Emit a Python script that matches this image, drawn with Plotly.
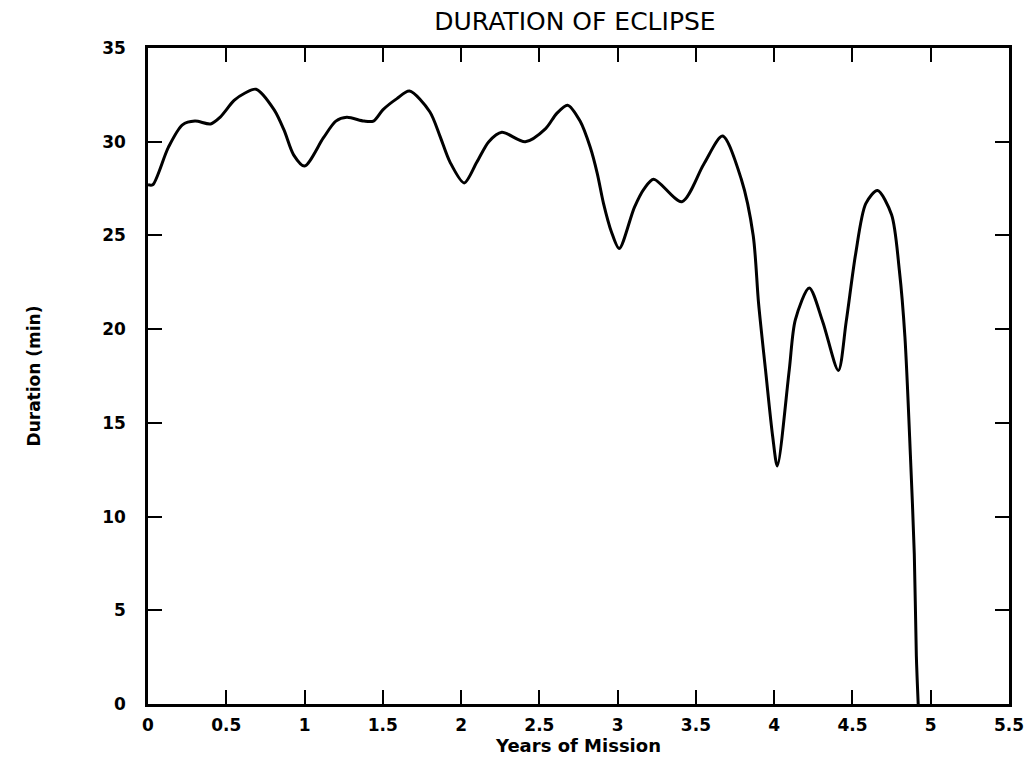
import plotly.graph_objects as go

years = [0.00, 0.03, 0.13, 0.22, 0.30, 0.40, 0.46, 0.55, 0.62, 0.69, 0.806, 0.87, 0.93, 1.00,
         1.12, 1.20, 1.27, 1.38, 1.44, 1.50, 1.59, 1.67, 1.80, 1.865, 1.93, 2.02,
         2.10, 2.177, 2.26, 2.41, 2.54, 2.61, 2.68, 2.76, 2.825, 2.87, 2.91, 2.96, 3.01,
         3.107, 3.17, 3.23, 3.41, 3.55, 3.67, 3.79, 3.866, 3.90,
         3.945, 3.99, 4.02, 4.096, 4.135, 4.224, 4.31, 4.41, 4.46, 4.52, 4.585, 4.66, 4.75, 4.80, 4.835, 4.87,
         4.895, 4.908, 4.92]
duration = [27.7, 27.7, 29.7, 30.9, 31.1, 30.95, 31.3, 32.2, 32.6, 32.8, 31.7, 30.6, 29.3, 28.7,
            30.2, 31.1, 31.3, 31.1, 31.1, 31.7, 32.3, 32.7, 31.6, 30.3, 28.9, 27.8,
            28.9, 30.0, 30.5, 30.0, 30.7, 31.5, 31.95, 31.1, 29.7, 28.3, 26.7, 25.2, 24.3,
            26.5, 27.5, 28.0, 26.8, 28.8, 30.3, 28.0, 25.0, 21.4,
            17.8, 14.3, 12.7, 17.8, 20.5, 22.2, 20.4, 17.8, 20.4, 24.0, 26.7, 27.4, 26.1, 23.1, 19.6, 13.3,
            8.0, 2.6, 0.0]

x_ticks = [0, 0.5, 1, 1.5, 2, 2.5, 3, 3.5, 4, 4.5, 5, 5.5]
x_labels = ["0", "0.5", "1", "1.5", "2", "2.5", "3", "3.5", "4", "4.5", "5", "5.5"]
y_ticks = [0, 5, 10, 15, 20, 25, 30, 35]

fig = go.Figure()
fig.add_trace(go.Scatter(x=years, y=duration, mode="lines",
                         line=dict(color="black", width=3, shape="spline", smoothing=0.8),
                         showlegend=False, hoverinfo="skip"))

FONT = "DejaVu Sans, sans-serif"
tickfont = dict(family=FONT, size=17, color="black", weight="bold")

fig.update_layout(
    width=1036, height=769,
    margin=dict(l=148, r=21, t=48, b=65),
    paper_bgcolor="white", plot_bgcolor="white",
    title=dict(text="DURATION OF ECLIPSE", x=0.555, xanchor="center", y=0.972, yanchor="middle",
               font=dict(family=FONT, size=25, color="black")),
    xaxis=dict(range=[0, 5.5], tickvals=x_ticks, ticktext=x_labels, ticks="inside", ticklen=14,
               tickwidth=2, tickcolor="black", showline=True, linecolor="black", linewidth=2.5,
               mirror="ticks", showgrid=False, zeroline=False, tickfont=tickfont,
               ticklabelstandoff=4,
               title=dict(text="Years of Mission", standoff=6,
                          font=dict(family=FONT, size=18, color="black", weight="bold"))),
    yaxis=dict(range=[0, 35], tickvals=y_ticks, ticks="inside", ticklen=14,
               tickwidth=2, tickcolor="black", showline=True, linecolor="black", linewidth=2.5,
               mirror="ticks", showgrid=False, zeroline=False, tickfont=tickfont,
               ticklabelstandoff=16,
               title=dict(text="Duration (min)", standoff=58,
                          font=dict(family=FONT, size=17, color="black", weight="bold"))),
)

fig.write_html("out.html")
